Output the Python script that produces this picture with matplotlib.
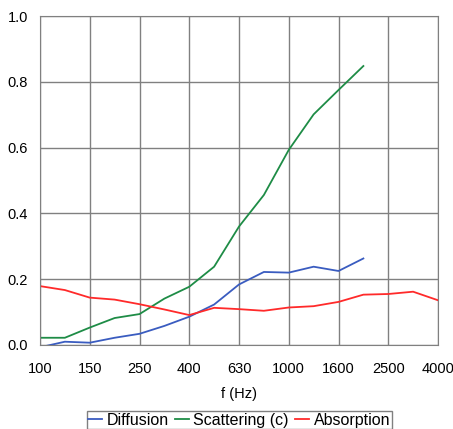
import numpy as np
import matplotlib
matplotlib.use("Agg")
import matplotlib.pyplot as plt

plt.rcParams["font.family"] = ["Liberation Sans", "DejaVu Sans"]

# Third-octave band centre frequencies (Hz), plotted as equally spaced categories
bands = ["100", "125", "160", "200", "250", "315", "400", "500", "630", "800",
         "1000", "1250", "1600", "2000", "2500", "3150", "4000"]
tick_labels = ["100", "150", "250", "400", "630", "1000", "1600", "2500", "4000"]

# Coefficients
diffusion = [-0.007, 0.010, 0.007, 0.022, 0.034, 0.058, 0.086, 0.123, 0.184,
             0.222, 0.220, 0.238, 0.225, 0.263]
scattering = [0.022, 0.022, 0.053, 0.082, 0.094, 0.141, 0.177, 0.238, 0.360,
              0.456, 0.593, 0.701, 0.775, 0.848]
absorption = [0.179, 0.167, 0.144, 0.138, 0.124, 0.108, 0.091, 0.113, 0.109,
              0.104, 0.114, 0.118, 0.131, 0.153, 0.155, 0.162, 0.136]

x_all = np.arange(len(bands))

fig = plt.figure(figsize=(4.53, 4.29), dpi=100)
ax = fig.add_axes([40 / 453, 1 - 345 / 429, 398 / 453, 329 / 429])

ax.plot(x_all[:len(diffusion)], diffusion, color="#3a5cc0", lw=1.3, label="Diffusion")
ax.plot(x_all[:len(scattering)], scattering, color="#1e8c46", lw=1.3, label="Scattering (c)")
ax.plot(x_all, absorption, color="#ff2a2a", lw=1.3, label="Absorption")

ax.set_xlim(0, len(bands) - 1)
ax.set_ylim(0, 1.0)
ax.set_xticks(x_all[::2])
ax.set_xticklabels(tick_labels)
ax.set_yticks(np.arange(0, 1.01, 0.2))
ax.set_yticklabels([f"{v:.1f}" for v in np.arange(0, 1.01, 0.2)])
ax.tick_params(length=0, labelsize=10.5, pad=12)
ax.tick_params(axis="y", pad=8.5)
ax.grid(True, color="#808080", lw=1)
for s in ax.spines.values():
    s.set_color("#808080")
ax.set_axisbelow(True)
ax.set_xlabel("f (Hz)", fontsize=10.5, labelpad=8)

leg = fig.legend(loc="upper center", bbox_to_anchor=(0.528, 1 - 403 / 429), ncol=3,
                 fontsize=11.5, handlelength=0.85, handletextpad=0.3,
                 columnspacing=0.4, borderpad=0.1, fancybox=False,
                 edgecolor="#808080", framealpha=1)
leg.get_frame().set_linewidth(1)

fig.savefig("out.png", dpi=100)
